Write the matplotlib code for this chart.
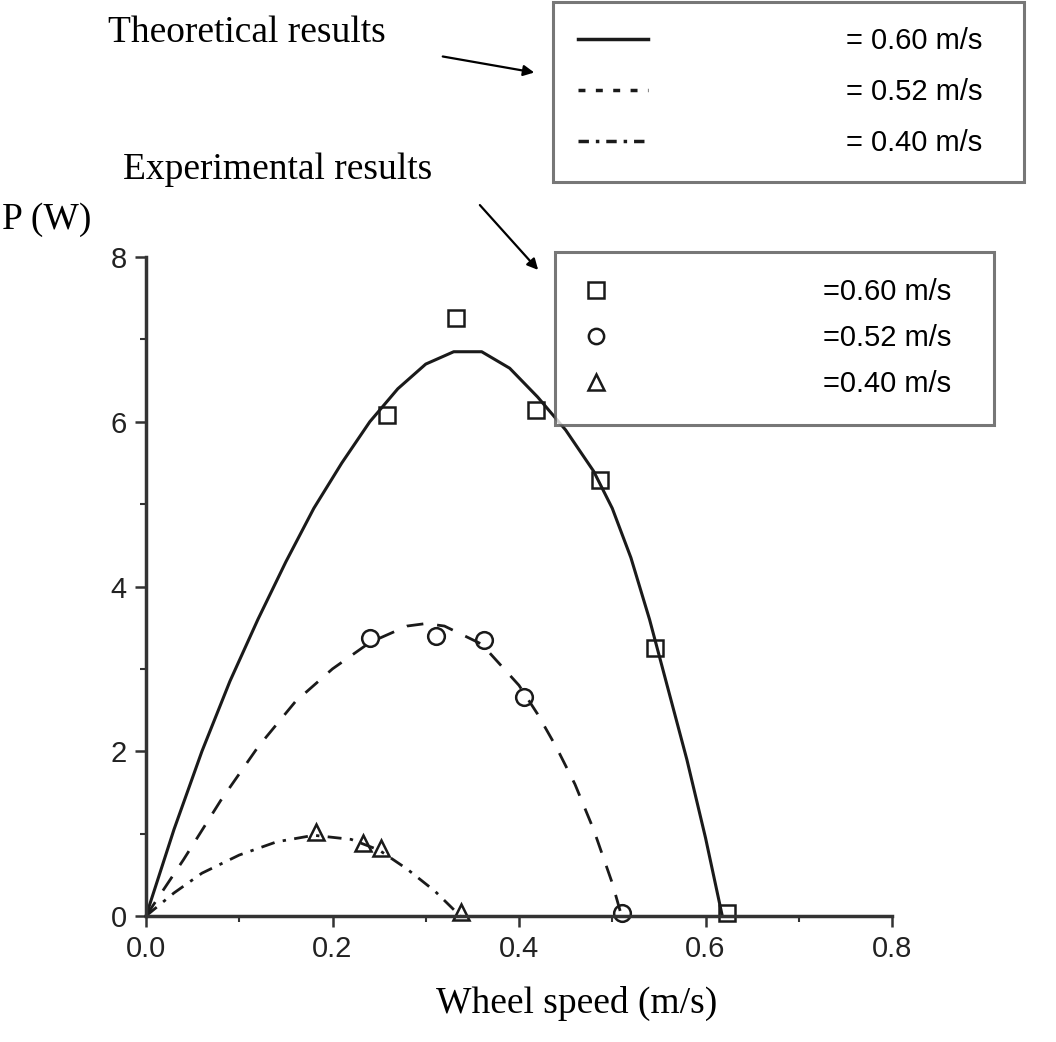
import matplotlib
matplotlib.use("Agg")
import matplotlib.pyplot as plt
from matplotlib.lines import Line2D
from matplotlib.patches import FancyArrowPatch

# theoretical curves
x_060 = [0, 0.03, 0.06, 0.09, 0.12, 0.15, 0.18, 0.21, 0.24, 0.27, 0.30, 0.33,
         0.36, 0.39, 0.42, 0.45, 0.48, 0.50, 0.52, 0.54, 0.56, 0.58, 0.60, 0.618]
p_060 = [0, 1.05, 2.0, 2.85, 3.6, 4.3, 4.95, 5.5, 6.0, 6.4, 6.7, 6.85,
         6.85, 6.65, 6.3, 5.9, 5.4, 4.95, 4.35, 3.6, 2.75, 1.9, 0.95, 0]

x_052 = [0, 0.04, 0.08, 0.12, 0.16, 0.20, 0.24, 0.28, 0.30, 0.32, 0.36, 0.40,
         0.42, 0.44, 0.46, 0.48, 0.50, 0.51]
p_052 = [0, 0.68, 1.4, 2.05, 2.6, 3.0, 3.32, 3.52, 3.55, 3.52, 3.3, 2.8,
         2.45, 2.05, 1.6, 1.05, 0.4, 0]

x_040 = [0, 0.03, 0.06, 0.10, 0.14, 0.18, 0.22, 0.25, 0.28, 0.31, 0.337]
p_040 = [0, 0.28, 0.52, 0.74, 0.9, 0.98, 0.93, 0.8, 0.57, 0.3, 0]

# experimental points
ex_060 = [0.258, 0.332, 0.418, 0.487, 0.546, 0.623]
ep_060 = [6.08, 7.26, 6.14, 5.29, 3.25, 0.04]
ex_052 = [0.240, 0.311, 0.363, 0.405, 0.510]
ep_052 = [3.37, 3.40, 3.35, 2.66, 0.04]
ex_040 = [0.182, 0.233, 0.252, 0.338]
ep_040 = [1.02, 0.89, 0.82, 0.05]

speed_labels = ["0.60 m/s", "0.52 m/s", "0.40 m/s"]

ink = "#1a1a1a"
sans = ["Liberation Sans", "DejaVu Sans"]
serif = ["Liberation Serif", "DejaVu Serif"]

fig = plt.figure(figsize=(10.56, 10.42), dpi=100)
ax = fig.add_axes([146 / 1056, 1 - 916 / 1042, 746 / 1056, 659 / 1042])

ax.plot(x_060, p_060, color=ink, lw=2.2, ls="-")
ax.plot(x_052, p_052, color=ink, lw=2.0, ls=(0, (6, 5)))
ax.plot(x_040, p_040, color=ink, lw=2.0, ls=(0, (5, 3, 1.2, 3)))

ms = 12
ax.plot(ex_060, ep_060, ls="none", marker="s", ms=ms, mfc="none", mec=ink, mew=1.8)
ax.plot(ex_052, ep_052, ls="none", marker="o", ms=ms, mfc="none", mec=ink, mew=1.8)
ax.plot(ex_040, ep_040, ls="none", marker="^", ms=ms, mfc="none", mec=ink, mew=1.8)

ax.set_xlim(0, 0.8)
ax.set_ylim(0, 8)
ax.set_xticks([0, 0.2, 0.4, 0.6, 0.8])
ax.set_xticks([0.1, 0.3, 0.5, 0.7], minor=True)
ax.set_yticks([0, 2, 4, 6, 8])
ax.set_yticks([1, 3, 5, 7], minor=True)
ax.set_xticklabels(["0.0", "0.2", "0.4", "0.6", "0.8"])
ax.set_yticklabels(["0", "2", "4", "6", "8"])
for s in ["top", "right"]:
    ax.spines[s].set_visible(False)
for s in ["left", "bottom"]:
    ax.spines[s].set_linewidth(2.5)
    ax.spines[s].set_color("#333333")
ax.tick_params(which="major", length=8, width=1.8, color="#333333", pad=6)
ax.tick_params(which="minor", length=4, width=1.5, color="#333333")
for lab in ax.get_xticklabels() + ax.get_yticklabels():
    lab.set_family(sans)
    lab.set_fontsize(21)
    lab.set_color("#222222")
for ln in ax.lines:
    ln.set_clip_on(False)

# legends
theo_handles = [
    Line2D([], [], color=ink, lw=2.5, ls="-"),
    Line2D([], [], color=ink, lw=2.5, ls=(0, (2, 3))),
    Line2D([], [], color=ink, lw=2.5, ls=(0, (3, 2, 1, 2))),
]
leg1 = fig.legend(theo_handles, ["= " + s + "  " for s in speed_labels],
                  loc="upper left", bbox_to_anchor=(553 / 1056, 1 - 2 / 1042),
                  frameon=True, fancybox=False, prop={"family": sans, "size": 21},
                  handlelength=2.4, handletextpad=6.8, borderpad=0.85,
                  labelspacing=0.8, borderaxespad=0)
leg1.get_frame().set_edgecolor("#555555")
leg1.get_frame().set_linewidth(2.2)

exp_handles = [
    Line2D([], [], ls="none", marker="s", ms=11, mfc="none", mec=ink, mew=1.8),
    Line2D([], [], ls="none", marker="o", ms=11, mfc="none", mec=ink, mew=1.8),
    Line2D([], [], ls="none", marker="^", ms=11, mfc="none", mec=ink, mew=1.8),
]
leg2 = fig.legend(exp_handles, ["=" + s + "  " for s in speed_labels],
                  loc="upper left", bbox_to_anchor=(555 / 1056, 1 - 252 / 1042),
                  frameon=True, fancybox=False, prop={"family": sans, "size": 21},
                  handlelength=1.0, handletextpad=7.3, borderpad=0.9,
                  labelspacing=0.62, borderaxespad=0)
leg2.get_frame().set_edgecolor("#555555")
leg2.get_frame().set_linewidth(2.2)

# annotations
fig.text(108 / 1056, 1 - 33 / 1042, "Theoretical results", family=serif,
         fontsize=27, ha="left", va="center")
fig.text(123 / 1056, 1 - 170 / 1042, "Experimental results", family=serif,
         fontsize=27, ha="left", va="center")
fig.text(2 / 1056, 1 - 220 / 1042, "P (W)", family=serif,
         fontsize=27, ha="left", va="center")
fig.text(577 / 1056, 1 - 1003 / 1042, "Wheel speed (m/s)", family=serif,
         fontsize=27, ha="center", va="center")

arrow = dict(arrowstyle="-|>", color="black", lw=1.6, mutation_scale=16)
fig.add_artist(FancyArrowPatch((440 / 1056, 1 - 56 / 1042), (537 / 1056, 1 - 73 / 1042),
                               transform=fig.transFigure, **arrow))
fig.add_artist(FancyArrowPatch((478 / 1056, 1 - 203 / 1042), (540 / 1056, 1 - 272 / 1042),
                               transform=fig.transFigure, **arrow))

fig.savefig("out.png", dpi=100)
